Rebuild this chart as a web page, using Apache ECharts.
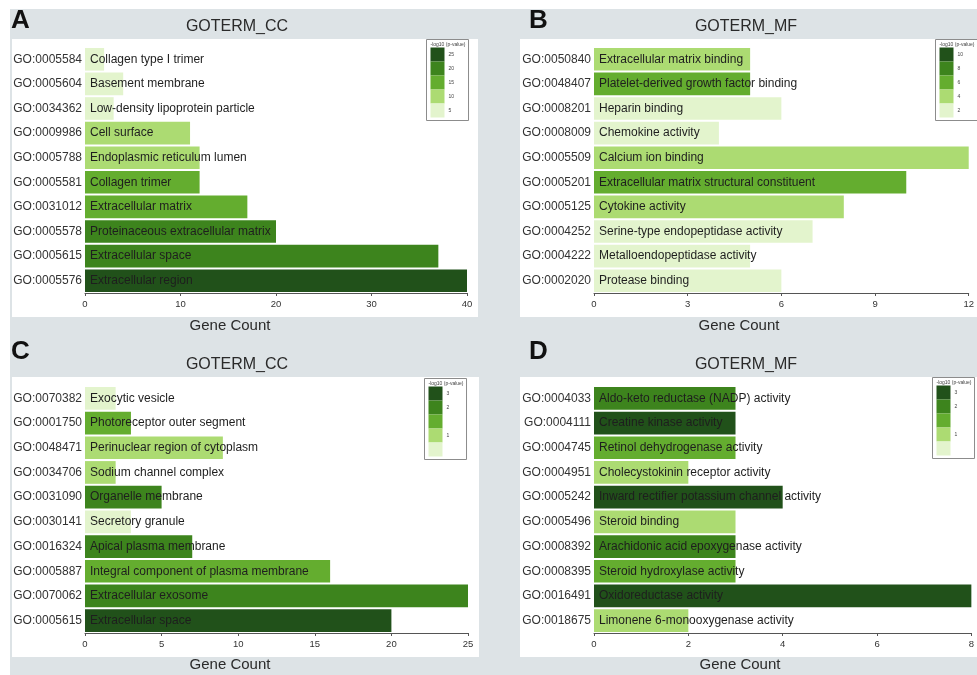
<!DOCTYPE html>
<html>
<head>
<meta charset="utf-8">
<script src="https://cdn.jsdelivr.net/npm/echarts@6/dist/echarts.min.js"></script>
<style>
  html, body { margin: 0; padding: 0; background: #ffffff; }
  #chart { width: 977px; height: 675px; }
</style>
</head>
<body>
<div id="chart"></div>
<script>
// ---- Panel A: GOTERM_CC ----
const idsA = ['GO:0005584', 'GO:0005604', 'GO:0034362', 'GO:0009986', 'GO:0005788',
              'GO:0005581', 'GO:0031012', 'GO:0005578', 'GO:0005615', 'GO:0005576'];
const termsA = ['Collagen type I trimer', 'Basement membrane', 'Low-density lipoprotein particle',
                'Cell surface', 'Endoplasmic reticulum lumen', 'Collagen trimer', 'Extracellular matrix',
                'Proteinaceous extracellular matrix', 'Extracellular space', 'Extracellular region'];
const countsA = [2, 4, 3, 11, 12, 12, 17, 20, 37, 40];
const logPA = [3.2, 5.1, 4.4, 9.6, 8.3, 14.2, 15.8, 19.4, 20.3, 26.1];
const ticksA = [0, 10, 20, 30, 40];
const legendEdgesA = [7.5, 12.5, 17.5, 22.5];
const legendLabelsA = ['5', '10', '15', '20', '25'];

// ---- Panel B: GOTERM_MF ----
const idsB = ['GO:0050840', 'GO:0048407', 'GO:0008201', 'GO:0008009', 'GO:0005509',
              'GO:0005201', 'GO:0005125', 'GO:0004252', 'GO:0004222', 'GO:0002020'];
const termsB = ['Extracellular matrix binding', 'Platelet-derived growth factor binding', 'Heparin binding',
                'Chemokine activity', 'Calcium ion binding', 'Extracellular matrix structural constituent',
                'Cytokine activity', 'Serine-type endopeptidase activity', 'Metalloendopeptidase activity',
                'Protease binding'];
const countsB = [5, 5, 6, 4, 12, 10, 8, 7, 5, 6];
const logPB = [4.3, 6.2, 2.6, 2.4, 3.8, 6.6, 3.6, 2.2, 2.1, 2.5];
const ticksB = [0, 3, 6, 9, 12];
const legendEdgesB = [3, 5, 7, 9];
const legendLabelsB = ['2', '4', '6', '8', '10'];

// ---- Panel C: GOTERM_CC ----
const idsC = ['GO:0070382', 'GO:0001750', 'GO:0048471', 'GO:0034706', 'GO:0031090',
              'GO:0030141', 'GO:0016324', 'GO:0005887', 'GO:0070062', 'GO:0005615'];
const termsC = ['Exocytic vesicle', 'Photoreceptor outer segment', 'Perinuclear region of cytoplasm',
                'Sodium channel complex', 'Organelle membrane', 'Secretory granule', 'Apical plasma membrane',
                'Integral component of plasma membrane', 'Extracellular exosome', 'Extracellular space'];
const countsC = [2, 3, 9, 2, 5, 3, 7, 16, 25, 20];
const logPC = [0.4, 1.6, 0.9, 1.0, 2.2, 0.5, 2.3, 1.5, 2.4, 3.1];
const ticksC = [0, 5, 10, 15, 20, 25];
const legendEdgesC = [0.55, 1.25, 1.95, 2.65];
const legendLabelsC = [' ', '1', ' ', '2', '3'];

// ---- Panel D: GOTERM_MF ----
const idsD = ['GO:0004033', 'GO:0004111', 'GO:0004745', 'GO:0004951', 'GO:0005242',
              'GO:0005496', 'GO:0008392', 'GO:0008395', 'GO:0016491', 'GO:0018675'];
const termsD = ['Aldo-keto reductase (NADP) activity', 'Creatine kinase activity', 'Retinol dehydrogenase activity',
                'Cholecystokinin receptor activity', 'Inward rectifier potassium channel activity', 'Steroid binding',
                'Arachidonic acid epoxygenase activity', 'Steroid hydroxylase activity', 'Oxidoreductase activity',
                'Limonene 6-monooxygenase activity'];
const countsD = [3, 3, 3, 2, 4, 3, 3, 3, 8, 2];
const logPD = [2.2, 2.8, 1.6, 0.9, 2.9, 1.0, 2.3, 1.5, 3.2, 0.8];
const ticksD = [0, 2, 4, 6, 8];
const legendEdgesD = [0.55, 1.25, 1.95, 2.65];
const legendLabelsD = [' ', '1', ' ', '2', '3'];

const panelTitles = ['GOTERM_CC', 'GOTERM_MF', 'GOTERM_CC', 'GOTERM_MF'];
const panelLetters = ['A', 'B', 'C', 'D'];

// Green ramp, lightest (low significance) to darkest
const shades = ['#e3f4cd', '#acdb72', '#64ad2f', '#3d841d', '#21511a'];

const FONT = '"Liberation Sans", Arial, Helvetica, sans-serif';
const TXT = '#2a2a2a';

const panels = [
  { ids: idsA, terms: termsA, counts: countsA, logp: logPA, ticks: ticksA, edges: legendEdgesA, labels: legendLabelsA,
    grid: { left: 85, top: 47, width: 382, height: 246 }, white: [12, 39, 466, 278],
    legend: { left: 426, top: 39 }, title: [237, 27], letter: [11, 21], axisName: [230, 326] },
  { ids: idsB, terms: termsB, counts: countsB, logp: logPB, ticks: ticksB, edges: legendEdgesB, labels: legendLabelsB,
    grid: { left: 594, top: 47, width: 381, height: 246 }, white: [520, 39, 457, 278],
    legend: { left: 935, top: 39 }, title: [746, 27], letter: [529, 21], axisName: [739, 326] },
  { ids: idsC, terms: termsC, counts: countsC, logp: logPC, ticks: ticksC, edges: legendEdgesC, labels: legendLabelsC,
    grid: { left: 85, top: 386, width: 383, height: 247 }, white: [12, 377, 467, 280],
    legend: { left: 424, top: 378 }, title: [237, 365], letter: [11, 352], axisName: [230, 665] },
  { ids: idsD, terms: termsD, counts: countsD, logp: logPD, ticks: ticksD, edges: legendEdgesD, labels: legendLabelsD,
    grid: { left: 594, top: 386, width: 381, height: 247 }, white: [520, 377, 457, 280],
    legend: { left: 932, top: 377 }, title: [746, 365], letter: [529, 352], axisName: [740, 665] }
];

const grids = [], xAxes = [], yAxes = [], series = [], visualMaps = [];
const graphics = [
  // panel backdrop
  { type: 'rect', shape: { x: 10, y: 9, width: 967, height: 666 }, style: { fill: '#dde3e6' }, z: -20, silent: true }
];

panels.forEach((p, i) => {
  grids.push(Object.assign({ containLabel: false }, p.grid));
  const t = p.ticks;
  xAxes.push({
    type: 'value', gridIndex: i, min: t[0], max: t[t.length - 1], interval: t[1] - t[0],
    axisLine: { show: true, lineStyle: { color: '#555', width: 1 } },
    axisTick: { show: true, length: 3, lineStyle: { color: '#555' } },
    axisLabel: { fontSize: 9.5, color: '#333', margin: 6, fontFamily: FONT, showMaxLabel: true, showMinLabel: true },
    splitLine: { show: false }
  });
  yAxes.push({
    type: 'category', gridIndex: i, data: p.ids, inverse: true,
    axisLine: { show: false }, axisTick: { show: false },
    axisLabel: { fontSize: 12, color: '#333', margin: 3, fontFamily: FONT }
  });
  const terms = p.terms;
  series.push({
    type: 'bar', xAxisIndex: i, yAxisIndex: i,
    data: p.ids.map((id, k) => [p.counts[k], id, p.logp[k]]),
    encode: { x: 0, y: 1 },
    barCategoryGap: '8%',
    label: {
      show: true, position: 'insideLeft', distance: 5,
      formatter: (d) => terms[d.dataIndex],
      color: '#1e1e1e', fontSize: 12, fontFamily: FONT, textBorderWidth: 0
    },
    itemStyle: { borderWidth: 0 },
    emphasis: { disabled: true },
    animation: false
  });
  const e = p.edges;
  const pieces = [
    { lt: e[0], label: p.labels[0], color: shades[0] },
    { gte: e[0], lt: e[1], label: p.labels[1], color: shades[1] },
    { gte: e[1], lt: e[2], label: p.labels[2], color: shades[2] },
    { gte: e[2], lt: e[3], label: p.labels[3], color: shades[3] },
    { gte: e[3], label: p.labels[4], color: shades[4] }
  ];
  visualMaps.push({
    type: 'piecewise', seriesIndex: i, dimension: 2, orient: 'vertical', align: 'left',
    left: p.legend.left, top: p.legend.top,
    pieces: pieces, itemSymbol: 'rect', itemWidth: 14, itemHeight: 14, itemGap: 0, textGap: 4,
    showLabel: true, text: ['-log10 (p-value)', null],
    padding: [3, 3, 3, 4], borderColor: '#8c8c8c', borderWidth: 1, backgroundColor: '#ffffff',
    textStyle: { fontSize: 5, color: '#444', fontFamily: FONT },
    selectedMode: false, hoverLink: false
  });
  const w = p.white;
  graphics.push({ type: 'rect', shape: { x: w[0], y: w[1], width: w[2], height: w[3] }, style: { fill: '#ffffff' }, z: -10, silent: true });
  graphics.push({ type: 'text', x: p.title[0], y: p.title[1], silent: true,
    style: { text: panelTitles[i], fontSize: 16, fill: TXT, fontFamily: FONT, align: 'center', verticalAlign: 'middle' } });
  graphics.push({ type: 'text', x: p.letter[0], y: p.letter[1], silent: true,
    style: { text: panelLetters[i], fontSize: 26, fontWeight: 'bold', fill: '#111', fontFamily: FONT, align: 'left', verticalAlign: 'middle' } });
  graphics.push({ type: 'text', x: p.axisName[0], y: p.axisName[1], silent: true,
    style: { text: 'Gene Count', fontSize: 15, fill: TXT, fontFamily: FONT, align: 'center', verticalAlign: 'middle' } });
});

const chart = echarts.init(document.getElementById('chart'), null, { renderer: 'canvas' });
chart.setOption({
  backgroundColor: '#ffffff',
  animation: false,
  textStyle: { fontFamily: FONT },
  grid: grids,
  xAxis: xAxes,
  yAxis: yAxes,
  visualMap: visualMaps,
  series: series,
  graphic: graphics
});
</script>
</body>
</html>
